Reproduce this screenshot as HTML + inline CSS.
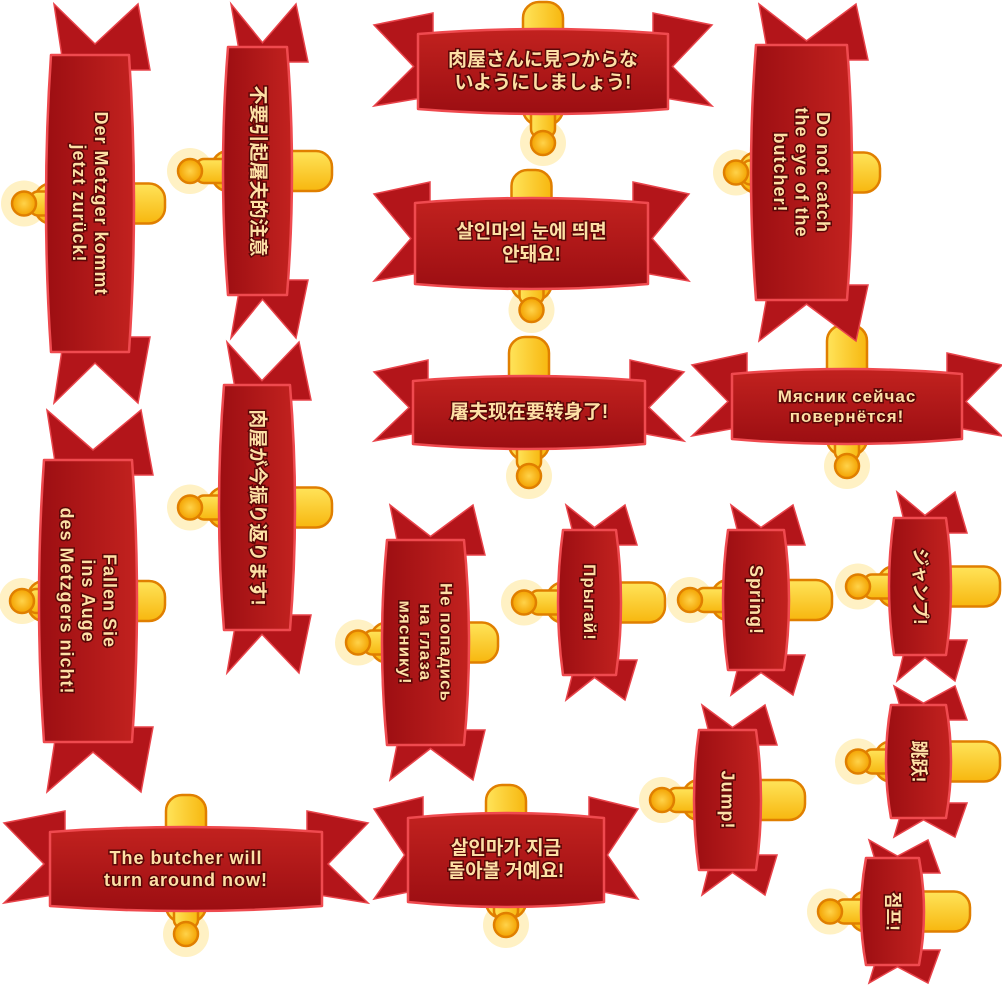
<!DOCTYPE html>
<html><head><meta charset="utf-8">
<style>
html,body{margin:0;padding:0;background:#fff;}
svg{display:block;}
text{font-family:"Liberation Sans","Noto Sans CJK JP","Noto Sans CJK KR",sans-serif;font-weight:bold;fill:#fde0a6;stroke:#5b0707;stroke-width:3px;paint-order:stroke;text-anchor:middle;dominant-baseline:central;}
text.l{letter-spacing:1px;}
</style></head>
<body>
<svg id="s" width="1002" height="986" viewBox="0 0 1002 986" xmlns="http://www.w3.org/2000/svg">
<defs>
<linearGradient id="bd" x1="0" y1="0" x2="0" y2="1"><stop offset="0" stop-color="#c2221f"/><stop offset="1" stop-color="#9c0e12"/></linearGradient>
<linearGradient id="yb" x1="0" y1="0" x2="1" y2="0"><stop offset="0" stop-color="#ffe45a"/><stop offset="1" stop-color="#f7b70f"/></linearGradient>
<radialGradient id="dg"><stop offset="0" stop-color="#ffd34a"/><stop offset="1" stop-color="#f3a200"/></radialGradient>
</defs>
</svg>
<script>
var S=document.getElementById('s'),NS='http://www.w3.org/2000/svg';
function el(p,n,a){var e=document.createElementNS(NS,n);for(var k in a)e.setAttribute(k,a[k]);p.appendChild(e);return e;}
function banner(tr,a,b,t,barTop,dotY,lines,fs,lat){
 var g=el(S,'g',{transform:tr});
 el(g,'circle',{cx:0,cy:dotY,r:23,fill:'#fff1c4'});
 el(g,'rect',{x:-20,y:barTop,width:40,height:(b+10-barTop),rx:16,fill:'url(#yb)',stroke:'#e07f00','stroke-width':2.5});
 el(g,'rect',{x:-12,y:b-10,width:24,height:(dotY-b+4),rx:8,fill:'url(#yb)',stroke:'#e07f00','stroke-width':2.5});
 el(g,'circle',{cx:0,cy:dotY,r:12,fill:'url(#dg)',stroke:'#e07f00','stroke-width':2.5});
 var tl=-a-t, tr2=a+t, n=Math.min(40,t*0.9), o=-5;
 el(g,'path',{d:'M'+(-a+15)+','+(-b-10+o)+' L'+tl+','+(-b+2+o)+' L'+(tl+n)+','+(o)+' L'+tl+','+(b-4+o)+' L'+(-a+15)+','+(b-14+o)+'Z',fill:'#b3151a',stroke:'#e8434a','stroke-width':1.5});
 el(g,'path',{d:'M'+(a-15)+','+(-b-10+o)+' L'+tr2+','+(-b+2+o)+' L'+(tr2-n)+','+(o)+' L'+tr2+','+(b-4+o)+' L'+(a-15)+','+(b-14+o)+'Z',fill:'#b3151a',stroke:'#e8434a','stroke-width':1.5});
 el(g,'path',{d:'M'+(-a)+','+(-b+6)+' Q0,'+(-b-4)+' '+a+','+(-b+6)+' L'+a+','+(b-6)+' Q0,'+(b+4)+' '+(-a)+','+(b-6)+'Z',fill:'url(#bd)',stroke:'#ef4a4f','stroke-width':2.5,'stroke-linejoin':'round'});
 var lh=fs*1.2, y0=-(lines.length-1)*lh/2;
 for(var i=0;i<lines.length;i++){var x=el(g,'text',{x:0,y:y0+i*lh,'font-size':fs});if(lat)x.setAttribute('class','l');x.textContent=lines[i];}
}
function H(x1,x2,y1,y2,tx1,tx2,barTop,dx,dy,lines,fs,lat){
 var cx=(x1+x2)/2,cy=(y1+y2)/2;
 banner('translate('+cx+','+cy+')',(x2-x1)/2,(y2-y1)/2,Math.max(cx-tx1,tx2-cx)-(x2-x1)/2,barTop-cy,dy-cy,lines,fs,lat);
}
function V(x1,x2,y1,y2,ty1,ty2,barEnd,dx,lines,fs,lat){
 var cx=(x1+x2)/2,cy=(y1+y2)/2,a=(y2-y1)/2;
 banner('translate('+cx+','+cy+') rotate(90)',a,(x2-x1)/2,Math.max(cy-ty1,ty2-cy)-a,-(barEnd-cx),cx-dx,lines,fs,lat);
}
H(418,668,28,115,374,712,2,543,143,['肉屋さんに見つからな','いようにしましょう!'],19);
H(415,648,197,290,374,686,170,531,310,['살인마의 눈에 띄면','안돼요!'],19);
H(413,645,375,450,374,682,337,531,476,['屠夫现在要转身了!'],19);
H(732,962,368,445,692,1000,325,846,466,['Мясник сейчас','повернётся!'],17,1);
H(50,322,826,912,4,366,795,186,934,['The butcher will','turn around now!'],18,1);
H(408,604,812,908,374,636,785,505,925,['살인마가 지금','돌아볼 거예요!'],19);
V(45,135,55,352,4,402,165,24,['Der Metzger kommt','jetzt zurück!'],18,1);
V(222,293,47,295,4,335,332,190,['不要引起屠夫的注意'],19);
V(750,853,45,300,4,320,880,736,['Do not catch','the eye of the','butcher!'],18,1);
V(218,296,385,630,342,670,332,190,['肉屋が今振り返ります!'],19);
V(38,138,460,742,410,790,165,22,['Fallen Sie','ins Auge','des Metzgers nicht!'],18,1);
V(381,470,540,745,505,780,498,358,['Не попадись','на глаза','мяснику!'],17,1);
V(557,622,530,675,505,700,665,524,['Прыгай!'],17,1);
V(722,790,530,670,505,695,832,690,['Spring!'],18,1);
V(888,952,518,655,492,680,1000,858,['ジャンプ!'],18);
V(693,762,730,870,705,895,805,662,['Jump!'],18,1);
V(885,952,705,818,686,835,1000,858,['跳跃!'],18);
V(860,925,858,965,840,982,970,830,['점프!'],18);
</script>
</body></html>
